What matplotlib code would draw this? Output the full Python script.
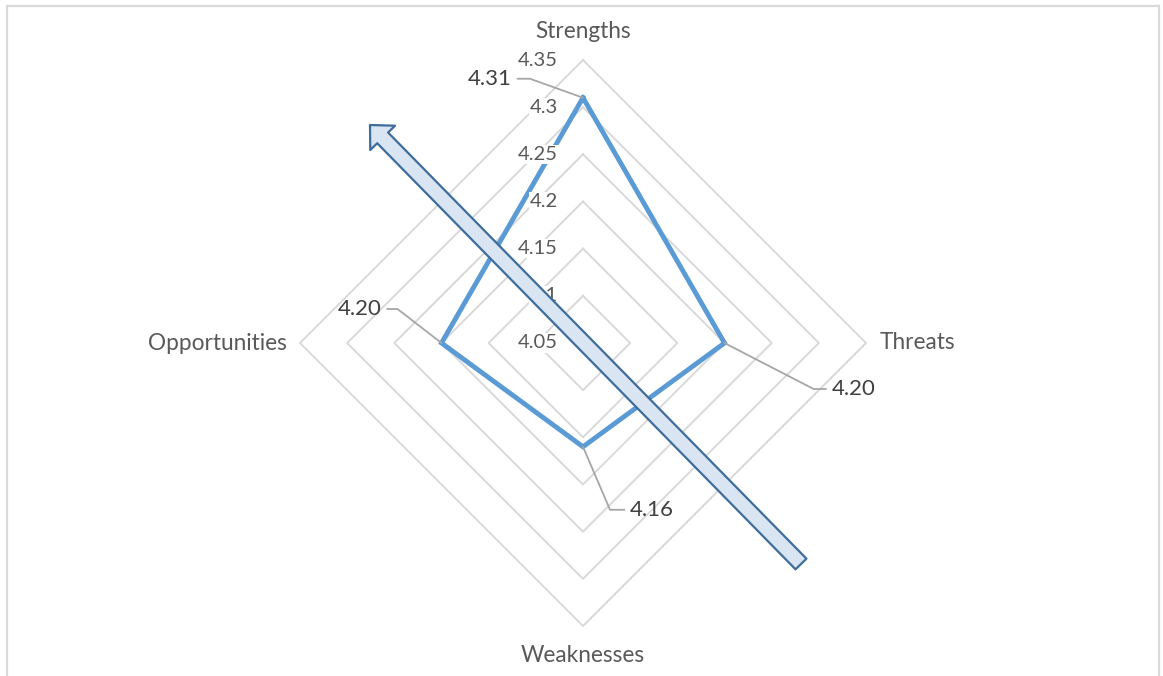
import numpy as np
import matplotlib
matplotlib.use("Agg")
import matplotlib.pyplot as plt
from matplotlib.patches import FancyArrowPatch, Rectangle

# ---- data ----
categories = ["Strengths", "Threats", "Weaknesses", "Opportunities"]
values = [4.31, 4.20, 4.16, 4.20]
r_min, r_max = 4.05, 4.35
ring_levels = [4.10, 4.15, 4.20, 4.25, 4.30, 4.35]
tick_levels = [4.05, 4.10, 4.15, 4.20, 4.25, 4.30, 4.35]
tick_labels = ["4.05", "4.1", "4.15", "4.2", "4.25", "4.3", "4.35"]

# ---- styling / layout ----
plt.rcParams['font.family'] = ['Lato', 'DejaVu Sans']
W, H = 1163, 676
fig = plt.figure(figsize=(W / 100, H / 100), dpi=100)
cx, cy, R = 583, 343, 283
ax = fig.add_axes([(cx - R) / W, (H - cy - R) / H, 2 * R / W, 2 * R / H], projection='polar')
ax.set_theta_zero_location('N')
ax.set_theta_direction(-1)
ax.set_ylim(r_min, r_max)
ax.set_xticks([])
ax.set_yticks([])
ax.grid(False)
ax.spines['polar'].set_visible(False)
ax.patch.set_visible(False)

n = len(categories)
theta = [2 * np.pi * i / n for i in range(n)]
theta_closed = theta + [theta[0]]

# diamond gridlines
for lv in ring_levels:
    ax.plot(theta_closed, [lv] * (n + 1), color='#d9d9d9', lw=1.4, zorder=1, clip_on=False)

# data polygon
ax.plot(theta_closed, values + [values[0]], color='#5b9bd5', lw=3.5, zorder=3,
        solid_joinstyle='miter', clip_on=False)

# radial tick labels
for lv, lab in zip(tick_levels, tick_labels):
    ax.annotate(lab, xy=(0, lv), xytext=(-25, 0), textcoords='offset pixels',
                ha='right', va='center', fontsize=14.5, color='#595959', zorder=4,
                bbox=dict(boxstyle='square,pad=0.05', fc='white', ec='none'))

# category labels
cat_offsets = [((0, 29), 'center'), ((14, 0), 'left'), ((0, -29), 'center'), ((-13, 0), 'right')]
for t, cat, (off, ha) in zip(theta, categories, cat_offsets):
    ax.annotate(cat, xy=(t, r_max), xytext=off, textcoords='offset pixels',
                ha=ha, va='center', fontsize=16.3, color='#595959', annotation_clip=False)

# data labels with leader lines
label_offsets = [(-71, 19), (107, -46), (47, -63), (-60, 34)]
leader_angles = [-19.7, -27.3, -66.8, -37.7]
for t, v, (dx, dy), ang in zip(theta, values, label_offsets, leader_angles):
    ha = 'right' if dx < 0 else 'left'
    ax.annotate(f'{v:.2f}', xy=(t, v), xytext=(dx, dy), textcoords='offset pixels',
                ha=ha, va='center', fontsize=16, color='#404040', zorder=5,
                annotation_clip=False,
                arrowprops=dict(arrowstyle='-', color='#a6a6a6', lw=1.3,
                                connectionstyle=f'angle,angleA=0,angleB={ang},rad=0',
                                relpos=(1 if dx < 0 else 0, 0.5), shrinkA=2, shrinkB=0))

# chart border
fig.add_artist(Rectangle((7 / W, -0.05), (1159 - 7) / W, 1 - 6 / H + 0.05,
                         transform=fig.transFigure, fill=False, ec='#d9d9d9', lw=1.6))

# block arrow annotation
arrow = FancyArrowPatch(posA=(801 / W, 1 - 564 / H), posB=(370 / W, 1 - 125 / H),
                        transform=fig.transFigure,
                        arrowstyle='simple,head_length=13,head_width=25,tail_width=11',
                        mutation_scale=1, shrinkA=0, shrinkB=0,
                        fc='#dae5f3', ec='#3e6d9c', lw=1.6, zorder=10)
fig.add_artist(arrow)

fig.savefig('out.png', dpi=100)
